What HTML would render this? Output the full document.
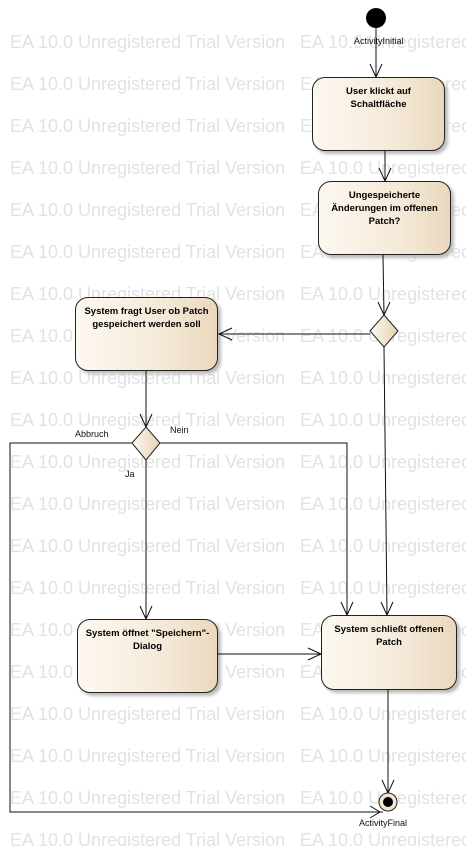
<!DOCTYPE html>
<html><head><meta charset="utf-8"><style>
html,body{margin:0;overflow:hidden}
body{background:#fff;width:466px;height:846px;position:relative;font-family:"Liberation Sans",sans-serif}
#wm{position:absolute;left:0;top:0;width:466px;height:846px;overflow:hidden}
.wm{position:absolute;font-size:18px;color:#e2e2e2;white-space:nowrap}
.box{position:absolute;border:1.3px solid #222;border-radius:13px;background:linear-gradient(90deg,#fdf8f0,#f5ead9 60%,#ead8bd);box-shadow:3px 3px 3px #bbb;font-size:9.5px;font-weight:bold;text-align:center;line-height:13px;box-sizing:border-box;padding-top:7px}
.lbl{position:absolute;font-size:9px;color:#111}
svg{position:absolute;left:0;top:0}
</style></head><body>
<div id="wm"></div>
<script>
var h='';for(var y=32;y<846;y+=42){h+='<div class="wm" style="left:10px;top:'+y+'px">EA 10.0 Unregistered Trial Version</div><div class="wm" style="left:300px;top:'+y+'px">EA 10.0 Unregistered Trial Version</div>';}
document.getElementById('wm').innerHTML=h;
</script>
<div class="box" style="left:312px;top:77px;width:133px;height:74px;padding-top:7px">User klickt auf<br>Schaltfläche</div>
<div class="box" style="left:318px;top:181px;width:133px;height:74px">Ungespeicherte<br>Änderungen im offenen<br>Patch?</div>
<div class="box" style="left:75px;top:297px;width:143px;height:74px">System fragt User ob Patch<br>gespeichert werden soll</div>
<div class="box" style="left:77px;top:619px;width:141px;height:74px">System öffnet "Speichern"-<br>Dialog</div>
<div class="box" style="left:321px;top:615px;width:136px;height:75px">System schließt offenen<br>Patch</div>
<svg width="466" height="846">
<defs><linearGradient id="g" x1="0" x2="1"><stop offset="0" stop-color="#fdf8f0"/><stop offset="1" stop-color="#e6d2b4"/></linearGradient></defs>
<g stroke="#111" stroke-width="1" fill="none">
<line x1="376" y1="28" x2="376" y2="77"/><polyline points="370,64 376,77 382,64"/>
<line x1="385" y1="151" x2="385" y2="181"/><polyline points="379,168 385,181 391,168"/>
<line x1="383" y1="255" x2="384" y2="315"/><polyline points="378,302 384,315 390,302"/>
<line x1="370" y1="334" x2="219" y2="334"/><polyline points="232,328 219,334 232,340"/>
<line x1="146" y1="371" x2="146" y2="427"/><polyline points="140,414 146,427 152,414"/>
<polyline points="132,443 10,443 10,812 383,812"/><polyline points="370,806 380,812 370,818"/>
<polyline points="160,443 347,443 347,615"/><polyline points="341,602 347,615 353,602"/>
<line x1="146" y1="460" x2="146" y2="619"/><polyline points="140,606 146,619 152,606"/>
<line x1="218" y1="654" x2="321" y2="654"/><polyline points="308,648 321,654 308,660"/>
<line x1="384" y1="347" x2="387" y2="615"/><polyline points="381,602 387,615 393,602"/>
<line x1="388" y1="690" x2="388" y2="793"/><polyline points="382,780 388,793 394,780"/>
</g>
<circle cx="376" cy="18" r="10" fill="#000"/>
<polygon points="384,315 398,331 384,347 370,331" fill="url(#g)" stroke="#222"/>
<polygon points="146,427 160,443 146,460 132,443" fill="url(#g)" stroke="#222"/>
<circle cx="388" cy="802" r="9" fill="#f3e6d2" stroke="#222"/>
<circle cx="388" cy="802" r="5" fill="#000"/>
</svg>
<div class="lbl" style="left:354px;top:36px">ActivityInitial</div>
<div class="lbl" style="left:359px;top:818px">ActivityFinal</div>
<div class="lbl" style="left:75px;top:429px">Abbruch</div>
<div class="lbl" style="left:170px;top:425px">Nein</div>
<div class="lbl" style="left:125px;top:469px">Ja</div>
</body></html>
